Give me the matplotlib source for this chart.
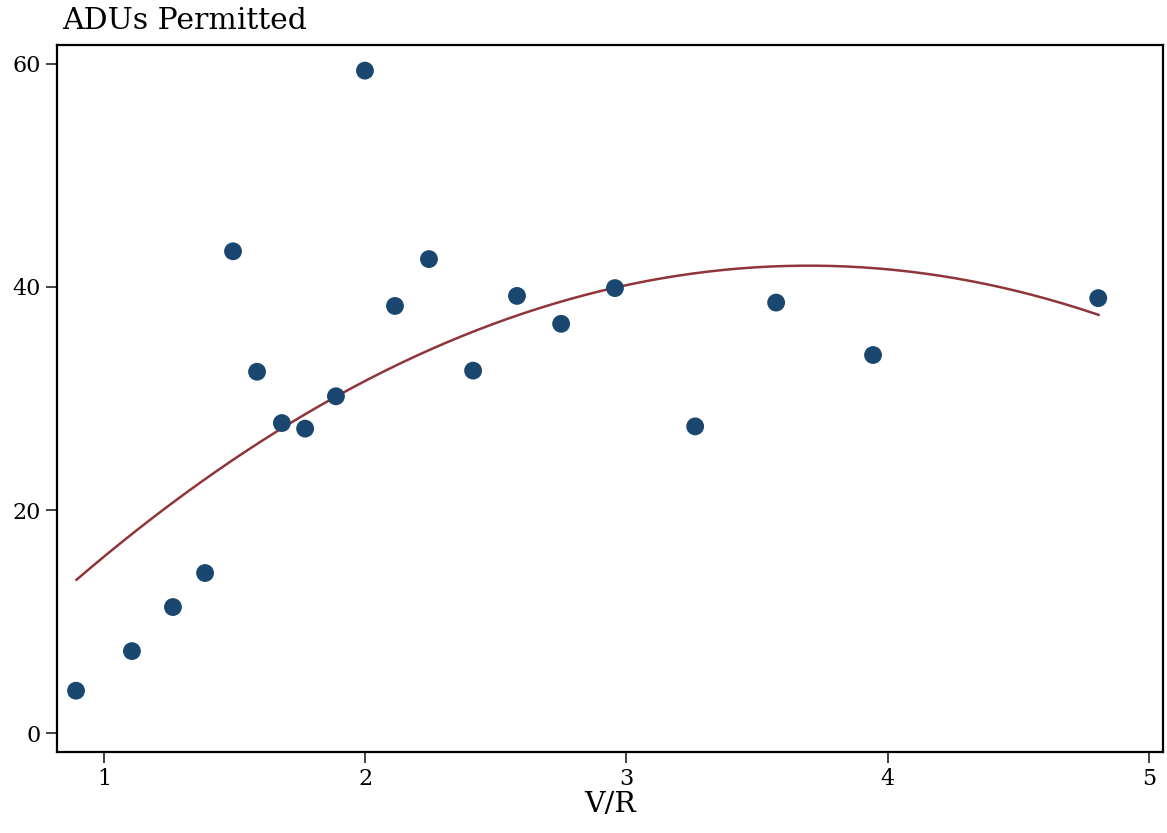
import numpy as np
import matplotlib
matplotlib.use('Agg')
import matplotlib.pyplot as plt

# V/R ratio vs ADUs permitted
vr = [0.893, 1.107, 1.264, 1.387, 1.494, 1.586, 1.681, 1.770, 1.888, 1.999,
      2.114, 2.244, 2.413, 2.581, 2.750, 2.956, 3.263, 3.573, 3.944, 4.806]
adus = [3.8, 7.35, 11.3, 14.35, 43.2, 32.4, 27.8, 27.3, 30.2, 59.4,
        38.3, 42.5, 32.5, 39.2, 36.7, 39.9, 27.5, 38.6, 33.9, 39.0]

# points read along the fitted (quadratic) line in the reference
fit_x = [0.895, 1.087, 1.278, 1.470, 1.680, 1.865, 2.235, 2.580, 2.957,
         3.090, 3.282, 3.703, 4.239, 4.622, 4.807]
fit_y = [13.72, 17.61, 20.90, 23.88, 27.33, 29.87, 34.50, 37.49, 39.88,
         40.48, 41.28, 41.88, 40.78, 39.13, 37.34]

x_ticks = [1, 2, 3, 4, 5]
y_ticks = [0, 20, 40, 60]

plt.rcParams['font.family'] = ['DejaVu Serif']

fig = plt.figure(figsize=(11.67, 8.33), dpi=100)
ax = fig.add_axes([0.0488, 0.0972, 0.9478, 0.8488])

# qfit-style line, smoothed through the read points
coef = np.polyfit(fit_x, fit_y, 2)
xs = np.linspace(fit_x[0], fit_x[-1], 200)
ax.plot(xs, np.polyval(coef, xs), color='#90353b', lw=1.8, zorder=2)

ax.scatter(vr, adus, s=165, color='#1a476f', edgecolors='none', zorder=3)

ax.set_xlim(0.82, 5.054)
ax.set_ylim(-1.7, 61.7)
ax.set_xticks(x_ticks)
ax.set_yticks(y_ticks)
ax.tick_params(labelsize=16, length=8, width=1.2, direction='out', color='#222222')
for s in ax.spines.values():
    s.set_linewidth(1.6)

ax.set_xlabel('V/R', fontsize=20.5, labelpad=1)
fig.text(0.053, 0.958, 'ADUs Permitted', fontsize=21.5, ha='left', va='bottom')

plt.savefig('out.png', dpi=100)
